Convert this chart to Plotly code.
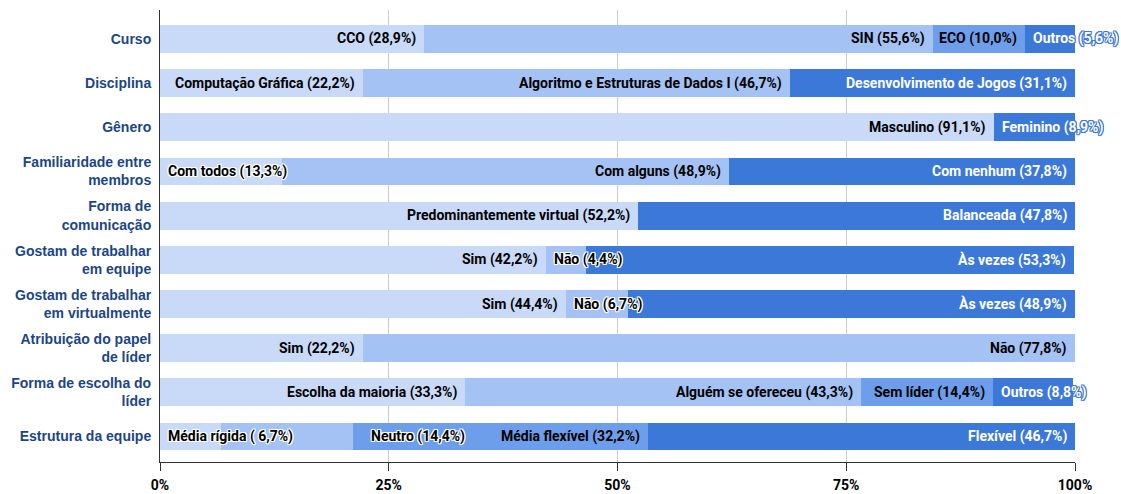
import plotly.graph_objects as go

# ---------------- data ----------------
categories = [
    "Curso", "Disciplina", "Gênero", "Familiaridade entre membros",
    "Forma de comunicação", "Gostam de trabalhar em equipe",
    "Gostam de trabalhar em virtualmente", "Atribuição do papel de líder",
    "Forma de escolha do líder", "Estrutura da equipe",
]
category_ticktext = [
    "Curso", "Disciplina", "Gênero", "Familiaridade entre<br>membros",
    "Forma de<br>comunicação", "Gostam de trabalhar<br>em equipe",
    "Gostam de trabalhar<br>em virtualmente", "Atribuição do papel<br>de líder",
    "Forma de escolha do<br>líder", "Estrutura da equipe",
]

x_tickvals = [0, 25, 50, 75, 100]
x_ticktext = ["0%", "25%", "50%", "75%", "100%"]

seg1_text = ["CCO (28,9%)", "Computação Gráfica (22,2%)", "Masculino (91,1%)",
             "Com todos (13,3%)", "Predominantemente virtual (52,2%)", "Sim (42,2%)",
             "Sim (44,4%)", "Sim (22,2%)", "Escolha da maioria (33,3%)", "Média rígida ( 6,7%)"]
seg1_values = [28.9, 22.2, 91.1, 13.3, 52.2, 42.2, 44.4, 22.2, 33.3, 6.7]

seg2_text = ["SIN (55,6%)", "Algoritmo e Estruturas de Dados I (46,7%)", "Feminino (8,9%)",
             "Com alguns (48,9%)", "Balanceada (47,8%)", "Não (4,4%)",
             "Não (6,7%)", "Não (77,8%)", "Alguém se ofereceu (43,3%)", "Neutro (14,4%)"]
seg2_values = [55.6, 46.7, 8.9, 48.9, 47.8, 4.4, 6.7, 77.8, 43.3, 14.4]

seg3_text = ["ECO (10,0%)", "Desenvolvimento de Jogos (31,1%)", None,
             "Com nenhum (37,8%)", None, "Às vezes (53,3%)",
             "Às vezes (48,9%)", None, "Sem líder (14,4%)", "Média flexível (32,2%)"]
seg3_values = [10.0, 31.1, None, 37.8, None, 53.3, 48.9, None, 14.4, 32.2]

seg4_text = ["Outros (5,6%)", None, None, None, None, None, None, None,
             "Outros (8,8%)", "Flexível (46,7%)"]
seg4_values = [5.6, None, None, None, None, None, None, None, 8.8, 46.7]

# ---------------- style ----------------
LIGHT, MID, MIDDARK, DARK = "#c9daf8", "#a4c2f4", "#6d9eeb", "#3c78d8"
seg1_colors = [LIGHT] * 10
seg2_colors = [MID, MID, DARK, MID, DARK, MID, MID, MID, MID, MID]
seg3_colors = [MIDDARK, DARK, DARK, DARK, DARK, DARK, DARK, DARK, MIDDARK, MIDDARK]
seg4_colors = [DARK] * 10

segments = [
    (seg1_values, seg1_text, seg1_colors),
    (seg2_values, seg2_text, seg2_colors),
    (seg3_values, seg3_text, seg3_colors),
    (seg4_values, seg4_text, seg4_colors),
]

W, H = 1121, 494
ML, MR, MT, MB = 160, 46, 10, 32
px_per_unit = (W - ML - MR) / 100.0
CHAR_W = 7.0
BAR_W = 0.633
LABEL_FONT = 14

fig = go.Figure()
for vals, texts, cols in segments:
    fig.add_trace(go.Bar(
        x=vals, y=categories, orientation="h",
        marker=dict(color=cols, line=dict(width=0)),
        width=BAR_W, hoverinfo="skip", showlegend=False,
    ))


def halo(c):
    return (f"-1px -1px 0 {c}, 1px -1px 0 {c}, -1px 1px 0 {c}, 1px 1px 0 {c}, "
            f"0 1px 0 {c}, 0 -1px 0 {c}, 1px 0 0 {c}, -1px 0 0 {c}")


annotations = []
for i, cat in enumerate(categories):
    start = 0.0
    prev_right_px = -1e9
    for vals, texts, cols in segments:
        v = vals[i]
        t = texts[i]
        if v is None or t is None:
            continue
        end = start + v
        est = len(t) * CHAR_W
        seg_px = v * px_per_unit
        txt_color = "white" if cols[i] == DARK else "black"
        shadow = "none"
        if est + 10 <= seg_px:
            left_px = end * px_per_unit - 6 - est
            if left_px < prev_right_px + 4:
                # collides with previous overflowing label: push right
                xpos, anchor, shift = end, "left", 16
                shadow = halo("white")
                prev_right_px = end * px_per_unit + 16 + est
            else:
                xpos, anchor, shift = end, "right", -6
                prev_right_px = end * px_per_unit - 6
        else:
            xpos, anchor, shift = start, "left", 6
            shadow = halo(DARK if txt_color == "white" else "white")
            prev_right_px = start * px_per_unit + 6 + est
        annotations.append(dict(
            x=xpos, y=cat, xref="x", yref="y", text=t, showarrow=False,
            xanchor=anchor, yanchor="middle", xshift=shift,
            font=dict(family="Roboto", size=LABEL_FONT, color=txt_color, weight="bold",
                      shadow=shadow),
        ))
        start = end

fig.update_layout(
    width=W, height=H,
    margin=dict(l=ML, r=MR, t=MT, b=MB, pad=0, autoexpand=False),
    paper_bgcolor="white", plot_bgcolor="white",
    barmode="stack", bargap=0.36,
    annotations=annotations,
    xaxis=dict(
        range=[0, 100], tickmode="array", tickvals=x_tickvals, ticktext=x_ticktext,
        showgrid=True, gridcolor="#cccccc", gridwidth=1,
        showline=True, linecolor="#333333", linewidth=1,
        ticks="outside", ticklen=8, tickcolor="#333333", tickwidth=1,
        tickfont=dict(family="Roboto", size=14, color="black", weight="bold"),
        zeroline=False, fixedrange=True, ticklabelstandoff=2, automargin=False,
    ),
    yaxis=dict(
        type="category", categoryorder="array", categoryarray=categories,
        range=[9.577, -0.656],
        tickmode="array", tickvals=categories, ticktext=category_ticktext,
        showline=True, linecolor="#333333", linewidth=1,
        showgrid=False, ticks="", zeroline=False, fixedrange=True,
        tickfont=dict(family="Arial, Liberation Sans", size=14, color="#1c4587",
                      weight="bold"),
        ticklabelstandoff=5, automargin=False,
    ),
)

fig.write_html("out.html", config={"displayModeBar": False},
               post_script="document.body.style.margin='0';")
